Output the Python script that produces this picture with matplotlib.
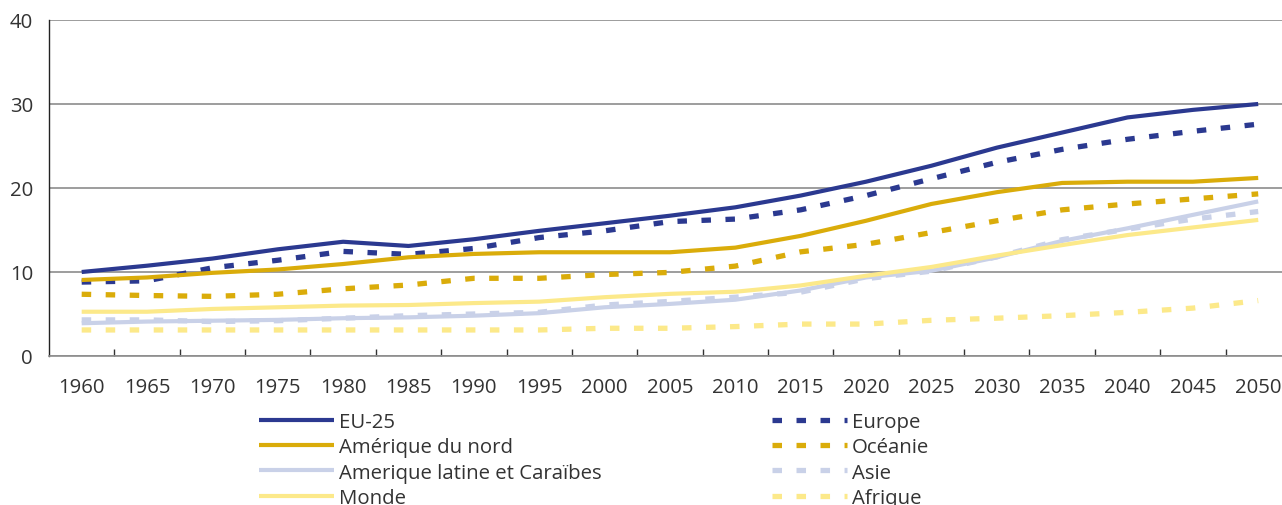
import matplotlib
matplotlib.use("Agg")
import matplotlib.pyplot as plt
import numpy as np

years = [1960, 1965, 1970, 1975, 1980, 1985, 1990, 1995, 2000, 2005,
         2010, 2015, 2020, 2025, 2030, 2035, 2040, 2045, 2050]

eu25 = [10.0, 10.75, 11.6, 12.7, 13.6, 13.1, 13.9, 14.9, 15.8, 16.7,
        17.7, 19.1, 20.75, 22.65, 24.8, 26.6, 28.4, 29.3, 30.0]
europe = [8.8, 8.95, 10.5, 11.4, 12.45, 12.1, 12.8, 14.1, 14.9, 16.0,
          16.3, 17.4, 19.1, 21.1, 23.05, 24.6, 25.8, 26.75, 27.6]
am_nord = [9.05, 9.35, 9.9, 10.3, 10.95, 11.75, 12.15, 12.35, 12.35, 12.35,
           12.9, 14.3, 16.1, 18.1, 19.5, 20.6, 20.75, 20.75, 21.2]
oceanie = [7.35, 7.2, 7.1, 7.35, 8.0, 8.45, 9.25, 9.25, 9.7, 9.95,
           10.7, 12.4, 13.3, 14.7, 16.1, 17.4, 18.1, 18.7, 19.3]
am_latine = [3.9, 4.1, 4.2, 4.3, 4.5, 4.6, 4.8, 5.1, 5.8, 6.2,
             6.7, 7.8, 9.35, 10.15, 11.75, 13.7, 15.2, 16.8, 18.4]
asie = [4.3, 4.3, 4.1, 4.2, 4.5, 4.8, 5.0, 5.2, 6.07, 6.5,
        7.0, 7.6, 9.2, 10.1, 11.8, 13.85, 15.1, 16.3, 17.2]
monde = [5.27, 5.27, 5.6, 5.8, 6.0, 6.07, 6.3, 6.47, 7.0, 7.4,
         7.65, 8.4, 9.55, 10.6, 11.95, 13.2, 14.4, 15.3, 16.2]
afrique = [3.1, 3.1, 3.1, 3.1, 3.1, 3.1, 3.1, 3.1, 3.3, 3.3,
           3.5, 3.8, 3.8, 4.25, 4.5, 4.8, 5.2, 5.7, 6.6]

yticks = [0, 10, 20, 30, 40]

NAVY = "#2B3990"
GOLD = "#DAAC0A"
LAV = "#C9D1E8"
YEL = "#FCE98A"
TXT = "#333333"

plt.rcParams['font.family'] = ['Open Sans', 'DejaVu Sans']

fig = plt.figure(figsize=(12.82, 5.06), dpi=100)
ax = fig.add_axes([49/1282, 1 - 357/506, 1 - 49/1282, (357 - 21)/506])

x = np.arange(len(years))
solid_lw = 3.0
dash_lw = 3.8
dash = (1.8, 2.75)

series = [
    ("EU-25", eu25, NAVY, False),
    ("Europe", europe, NAVY, True),
    ("Amérique du nord", am_nord, GOLD, False),
    ("Océanie", oceanie, GOLD, True),
    ("Amerique latine et Caraïbes", am_latine, LAV, False),
    ("Asie", asie, LAV, True),
    ("Monde", monde, YEL, False),
    ("Afrique", afrique, YEL, True),
]

handles = {}
for i, (name, vals, col, dashed) in enumerate(series):
    if dashed:
        ln, = ax.plot(x, vals, color=col, lw=dash_lw, dashes=dash,
                      dash_capstyle='butt', solid_capstyle='butt', zorder=3 + i)
    else:
        ln, = ax.plot(x, vals, color=col, lw=solid_lw,
                      solid_capstyle='butt', solid_joinstyle='round', zorder=3 + i)
    handles[name] = ln

ax.set_ylim(0, 40)
ax.set_xlim(-0.5, (1282 - 81) / 65.4)
ax.set_yticks(yticks)
ax.set_yticklabels([str(v) for v in yticks])
ax.set_xticks(x)
ax.set_xticklabels([str(y) for y in years])
ax.set_xticks(x[:-1] + 0.5, minor=True)

fs = 14.7
ax.tick_params(axis='x', which='major', length=0, pad=15, labelsize=fs, labelcolor=TXT)
ax.tick_params(axis='x', which='minor', direction='in', length=5, width=1.0, color='#333333')
ax.tick_params(axis='y', which='major', length=0, pad=11.5, labelsize=fs, labelcolor=TXT)

ax.grid(axis='y', color='#8C8C8C', lw=1.2, zorder=1)
ax.set_axisbelow(True)
for s in ['top', 'right']:
    ax.spines[s].set_visible(False)
ax.spines['bottom'].set_color('#8C8C8C')
ax.spines['bottom'].set_linewidth(1.2)
ax.spines['left'].set_color('#222222')
ax.spines['left'].set_linewidth(1.0)

fpx = fs * 100 / 72
common = dict(frameon=False, fontsize=fs, handlelength=75 / fpx,
              handletextpad=5 / fpx, labelspacing=0.26, borderpad=0,
              borderaxespad=0, loc='upper left')
col1 = ["EU-25", "Amérique du nord", "Amerique latine et Caraïbes", "Monde"]
col2 = ["Europe", "Océanie", "Asie", "Afrique"]
leg1 = fig.legend([handles[n] for n in col1], col1,
                  bbox_to_anchor=(259 / 1282, 1 - 413 / 506), **common)
leg2 = fig.legend([handles[n] for n in col2], col2,
                  bbox_to_anchor=(772 / 1282, 1 - 413 / 506), **common)
for lg in (leg1, leg2):
    for t in lg.get_texts():
        t.set_color(TXT)

fig.savefig("out.png", dpi=100)
